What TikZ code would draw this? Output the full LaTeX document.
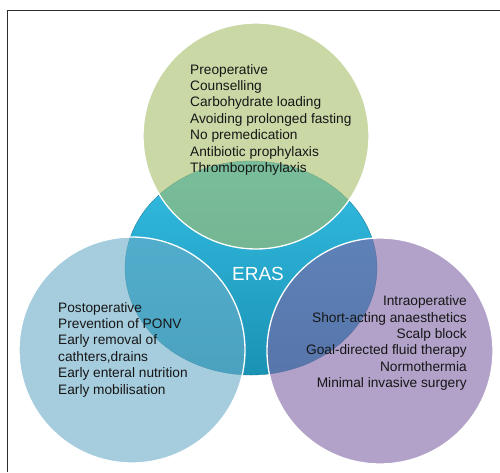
\documentclass[tikz,border=0pt]{standalone}
\usepackage{fontspec}
\setmainfont{Liberation Sans}
\usetikzlibrary{shapes.geometric}
\definecolor{framegray}{RGB}{45,45,45}
\definecolor{erastop}{RGB}{52,190,228}
\definecolor{erasbot}{RGB}{26,146,180}
\definecolor{greenc}{RGB}{168,190,107}
\definecolor{bluec}{RGB}{108,173,200}
\definecolor{purplec}{RGB}{128,100,165}
\definecolor{txt}{RGB}{22,22,22}
\tikzset{
  venn/.style={circle, minimum size=226pt, inner sep=0pt, fill opacity=0.6, draw=white, draw opacity=1, line width=1.3pt},
  listtext/.style={inner sep=0pt, font=\fontsize{13.7}{16.4}\selectfont, text=txt},
}
\begin{document}
\begin{tikzpicture}[x=1pt,y=-1pt]
\useasboundingbox (0,0) rectangle (500,472);
\fill[white] (0,0) rectangle (500,472);
\draw[framegray, line width=0.9pt] (7,472) -- (7,10) -- (500,10);
% central ERAS ellipse
\node[ellipse, minimum width=252pt, minimum height=214pt, inner sep=0pt,
      top color=erastop, bottom color=erasbot, draw=erasbot!80!black, line width=0.3pt] (eras) at (251,268) {};
% three phase circles
\node[venn, fill=greenc] (pre) at (256,136) {};
\node[venn, fill=bluec] (post) at (132,350) {};
\node[venn, fill=purplec] (intra) at (380,351) {};
% texts
\node[listtext, align=left, anchor=north west] (pretext) at (190,64) {Preoperative\\Counselling\\Carbohydrate loading\\Avoiding prolonged fasting\\No premedication\\Antibiotic prophylaxis\\Thromboprohylaxis};
\node[listtext, align=left, anchor=north west] (posttext) at (58,302) {Postoperative\\Prevention of PONV\\Early removal of\\cathters,drains\\Early enteral nutrition\\Early mobilisation};
\node[listtext, align=right, anchor=north east] (intratext) at (467,295.5) {Intraoperative\\Short-acting anaesthetics\\Scalp block\\Goal-directed fluid therapy\\Normothermia\\Minimal invasive surgery};
\node[text=white, inner sep=0pt, font=\fontsize{19}{22}\selectfont] (erastext) at (258,274) {ERAS};
\end{tikzpicture}
\end{document}
